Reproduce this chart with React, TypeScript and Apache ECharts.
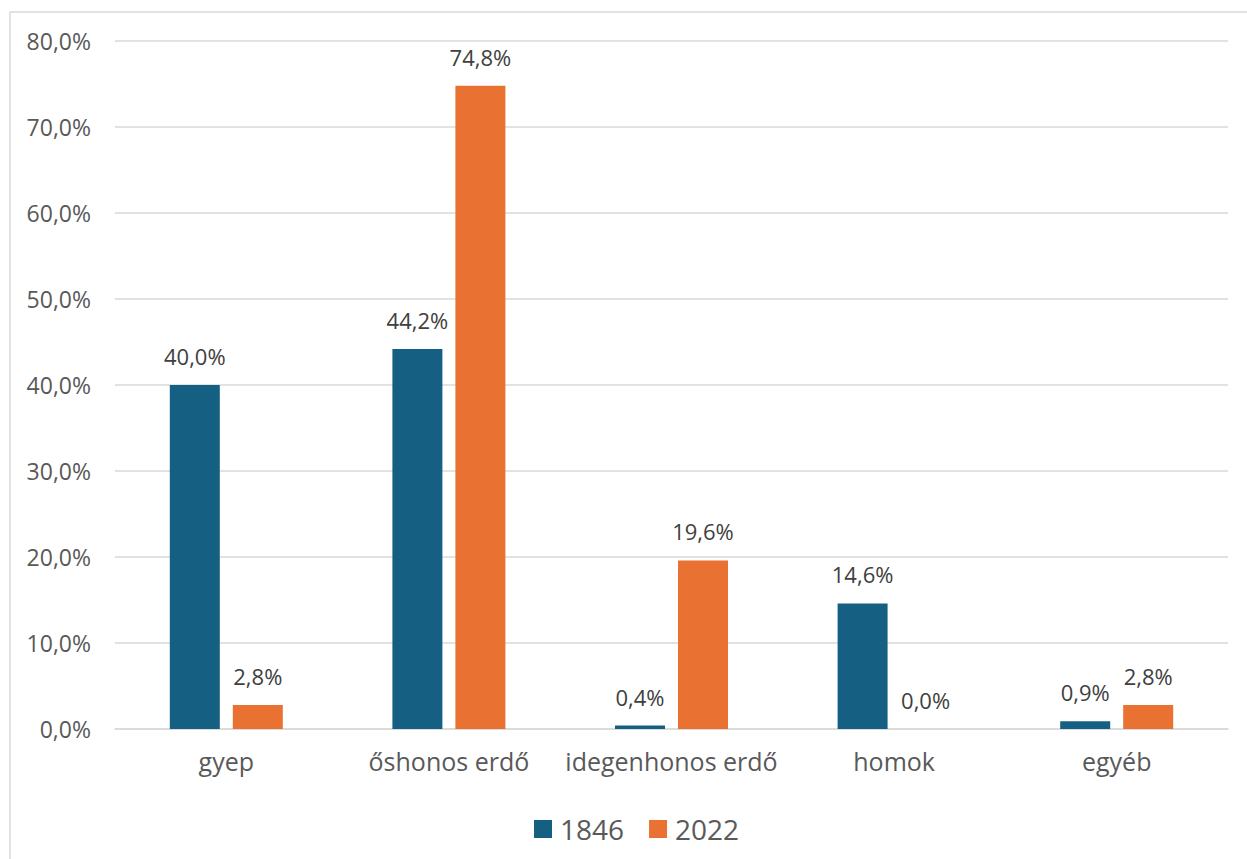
import React, { useEffect, useRef } from "react";
import * as echarts from "echarts";

const categories = ["gyep", "őshonos erdő", "idegenhonos erdő", "homok", "egyéb"];
const values1846 = [40.0, 44.2, 0.4, 14.6, 0.9];
const values2022 = [2.8, 74.8, 19.6, 0.0, 2.8];
const seriesNames = ["1846", "2022"];

const fmt = (v: number) => v.toFixed(1).replace(".", ",") + "%";

export default function App() {
  const ref = useRef<HTMLDivElement>(null);
  useEffect(() => {
    document.body.style.margin = "0";
    const chart = echarts.init(ref.current!, null, { renderer: "svg" });
    const font = "'Open Sans', 'Liberation Sans', sans-serif";
    const labelStyle = {
      show: true,
      position: "top",
      distance: 18,
      fontSize: 22,
      color: "#404040",
      fontFamily: font,
      formatter: (p: any) => fmt(p.value),
    };
    chart.setOption({
      animation: false,
      textStyle: { fontFamily: font },
      graphic: [
        {
          type: "rect",
          shape: { x: 10, y: 12, width: 1300, height: 900 },
          style: { fill: "none", stroke: "#d9d9d9", lineWidth: 1.5 },
          silent: true,
        },
      ],
      grid: { left: 115, right: 19, top: 41, bottom: 130 },
      legend: {
        data: seriesNames,
        left: 529,
        top: 810,
        itemWidth: 18,
        itemHeight: 18,
        itemGap: 25,
        icon: "rect",
        textStyle: { fontSize: 28, color: "#595959", fontFamily: font, padding: [0, 0, 0, 3] },
      },
      xAxis: {
        type: "category",
        data: categories,
        axisLine: { lineStyle: { color: "#d9d9d9", width: 1.5 } },
        axisTick: { show: false },
        axisLabel: { fontSize: 25, color: "#595959", margin: 19, fontFamily: font, interval: 0 },
      },
      yAxis: {
        type: "value",
        min: 0,
        max: 80,
        interval: 10,
        axisLabel: { fontSize: 23, color: "#595959", margin: 24, formatter: (v: number) => fmt(v), fontFamily: font },
        splitLine: { lineStyle: { color: "#d9d9d9", width: 1.5 } },
        axisLine: { show: false },
        axisTick: { show: false },
      },
      series: [
        {
          name: seriesNames[0],
          type: "bar",
          data: values1846,
          barWidth: 50,
          barGap: "26%",
          itemStyle: { color: "#156082" },
          label: labelStyle,
        },
        {
          name: seriesNames[1],
          type: "bar",
          data: values2022,
          barWidth: 50,
          barGap: "26%",
          itemStyle: { color: "#E97132" },
          label: labelStyle,
        },
      ],
    });
    return () => chart.dispose();
  }, []);
  return <div ref={ref} style={{ position: "absolute", left: 0, top: 0, width: 1247, height: 859 }} />;
}
